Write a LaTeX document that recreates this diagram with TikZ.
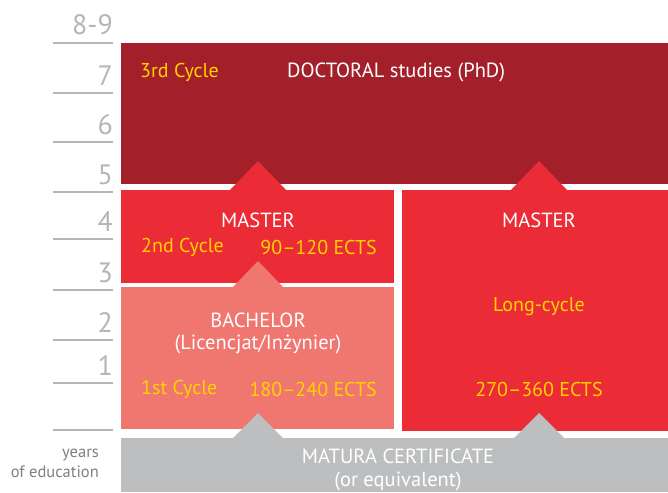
\documentclass[tikz,border=0pt]{standalone}
\usepackage{fontspec}
\setmainfont{PT Sans}
\usepackage{xcolor}
\usetikzlibrary{positioning}

\definecolor{phdred}{HTML}{A3202B}
\definecolor{masterred}{HTML}{EB2C36}
\definecolor{bachpink}{HTML}{F07670}
\definecolor{maturagray}{HTML}{BCBEC0}
\definecolor{cycleyellow}{HTML}{FFD200}
\definecolor{scalegray}{HTML}{B4B5B8}

\begin{document}
\begin{tikzpicture}[
    x=1pt, y=-1pt,
    level/.style={rectangle, inner sep=0pt, outer sep=0pt, anchor=north west},
    title/.style={text=white, font=\fontsize{20.5}{24}\selectfont, inner sep=0pt},
    cycle/.style={text=cycleyellow, font=\fontsize{20}{24}\selectfont, inner sep=0pt},
    year/.style={text=scalegray, font=\fontsize{28}{30}\selectfont, inner sep=0pt, anchor=base east},
    tick/.style={scalegray, line width=1.6pt},
    caption/.style={text=scalegray!70!black, font=\fontsize{16.5}{18}\selectfont, inner sep=0pt, anchor=east}
]
    \useasboundingbox (0,0) rectangle (668,492);

    % Levels
    \node[level, fill=phdred, minimum width=547, minimum height=141] (phd) at (121,43) {};
    \node[level, fill=masterred, minimum width=273, minimum height=93] (master) at (121,190) {};
    \node[level, fill=bachpink, minimum width=273, minimum height=142] (bachelor) at (121,287) {};
    \node[level, fill=masterred, minimum width=266, minimum height=241] (longmaster) at (402,190) {};
    \node[level, fill=maturagray, minimum width=547, minimum height=54] (matura) at (121,438) {};

    % Arrow heads between levels
    \fill[masterred] (229,191) -- (258,161) -- (287,191) -- cycle;
    \fill[masterred] (510,191) -- (539,161) -- (568,191) -- cycle;
    \fill[bachpink] (232,288) -- (258,261) -- (284,288) -- cycle;
    \fill[maturagray] (232,439) -- (258,413) -- (284,439) -- cycle;
    \fill[maturagray] (513,439) -- (539,413) -- (565,439) -- cycle;

    % Doctoral
    \node[cycle, anchor=west] (phdcycle) at (140,72) {3rd Cycle};
    \node[title, anchor=west] (phdtitle) at (287,72) {DOCTORAL studies (PhD)};

    % Master (2nd cycle)
    \node[title] (mastertitle) at (258,220) {MASTER};
    \node[cycle, anchor=west] (mastercycle) at (141,247) {2nd Cycle};
    \node[cycle, anchor=east] (masterects) at (377,247) {90–120 ECTS};

    % Bachelor
    \node[title] (bachtitle) at (258,320) {BACHELOR};
    \node[title, below=7pt of bachtitle] (bachsub) {(Licencjat/Inżynier)};
    \node[cycle, anchor=west] (bachcycle) at (141,389) {1st Cycle};
    \node[cycle, anchor=east] (bachects) at (377,389) {180–240 ECTS};

    % Long-cycle master
    \node[title] (longtitle) at (539,220) {MASTER};
    \node[cycle] (longcycle) at (539,307) {Long-cycle};
    \node[cycle] (longects) at (539,389) {270–360 ECTS};

    % Matura
    \node[title] (maturatitle) at (398,456) {MATURA CERTIFICATE};
    \node[title] (maturasub) at (398,481) {(or equivalent)};

    % Years scale
    \foreach \y/\lab in {90/8-9, 140/7, 189/6, 239/5, 286/4, 337/3, 387/2, 430/1} {
        \draw[tick] (53,\y-47) -- (113,\y-47);
        \node[year] at (113,\y-55) {\lab};
    }
    \draw[tick] (53,430) -- (113,430);
    \node[caption] (years) at (99,455) {years};
    \node[caption] (education) at (99,472) {of education};
\end{tikzpicture}
\end{document}
